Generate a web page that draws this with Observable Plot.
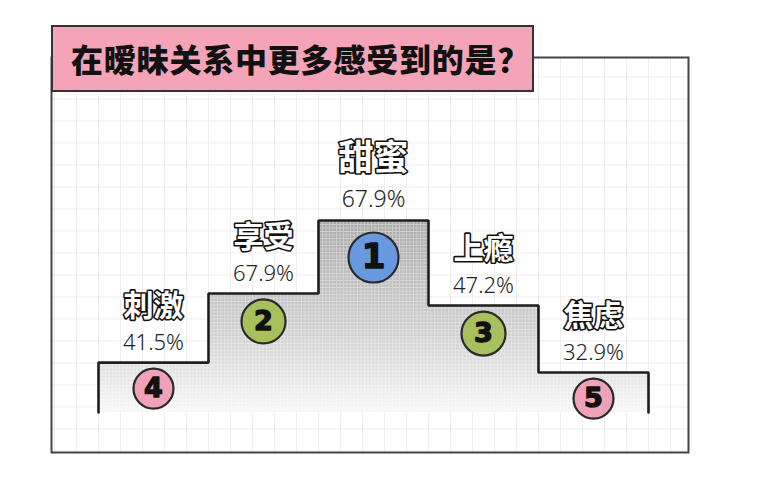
<!DOCTYPE html>
<html>
<head>
<meta charset="utf-8">
<script src="https://cdn.jsdelivr.net/npm/d3@7"></script>
<script src="https://cdn.jsdelivr.net/npm/@observablehq/plot@0.6"></script>
<style>
  html, body { margin: 0; padding: 0; background: #fff; }
  #wrap { position: relative; width: 776px; height: 485px; overflow: hidden; }
  #chart { position: absolute; left: 0; top: 0; }
  #title {
    position: absolute; left: 51px; top: 25px; width: 483px; height: 67px;
    box-sizing: border-box; background: #f5a4b8; border: 2px solid #333;
    padding-left: 18px; line-height: 62px;
    font-family: "Noto Sans CJK SC", sans-serif; font-weight: 900;
    font-size: 32px; letter-spacing: 0.8px; color: #111; white-space: nowrap;
  }
</style>
</head>
<body>
<div id="wrap">
  <div id="chart"></div>
  <div id="title">在暧昧关系中更多感受到的是？</div>
</div>
<script>
// ---- data ----
const categories  = ["刺激", "享受", "甜蜜", "上瘾", "焦虑"];
const percentages = [41.5, 67.9, 67.9, 47.2, 32.9];
const ranks       = [4, 2, 1, 3, 5];
// podium step height, relative to the tallest step (= 100)
const stepHeights = [26, 62, 100, 55.7, 20.8];
const rankColors  = ["#6798e0", "#a8c05c", "#a8c05c", "#f1a2b8", "#f1a2b8"]; // for ranks 1..5

const rows = categories.map((name, i) => ({
  name, pct: percentages[i], rank: ranks[i], h: stepHeights[i], i
}));

const stepPts = rows.flatMap(d => [{x: d.i, y: d.h}, {x: d.i + 1, y: d.h}]);
const outline = [{x: 0, y: 0}, ...stepPts, {x: rows.length, y: 0}];

const PX = 1.92; // pixels per y unit (range 192px / domain 100)
const rad = d => d.rank === 1 ? 25 : d.rank <= 3 ? 22 : 20;
const circleOff = d => d.rank === 1 ? 37 : rad(d) + 6;
const cx = d => d.i + 0.5;
const cy = d => d.h - circleOff(d) / PX;

const gridXs = d3.range(-0.4, 5.35, 0.2);
const gridYs = d3.range(-20, 186, 22 / PX);

const chart = Plot.plot({
  width: 776,
  height: 485,
  marginLeft: 51,
  marginRight: 88,
  marginTop: 57,
  marginBottom: 33,
  x: {domain: [0, 5], range: [98, 648], axis: null},
  y: {domain: [0, 100], range: [412, 220], axis: null},
  r: {type: "identity"},
  color: {type: "ordinal", domain: [1, 2, 3, 4, 5], range: rankColors},
  marks: [
    Plot.gridX(gridXs, {stroke: "#eeeeee", strokeOpacity: 1, strokeWidth: 1}),
    Plot.gridY(gridYs, {stroke: "#eeeeee", strokeOpacity: 1, strokeWidth: 1}),
    Plot.area(stepPts, {x1: "x", y1: () => 0, y2: "y", fill: "url(#podGrad)"}),
    Plot.area(stepPts, {x1: "x", y1: () => 0, y2: "y", fill: "url(#podTex)"}),
    Plot.line(outline, {x: "x", y: "y", stroke: "#1e1e1e", strokeWidth: 2.6, strokeLinejoin: "miter"}),
    Plot.frame({stroke: "#444", strokeWidth: 2}),
    // category names (outlined white text)
    Plot.text(rows, {
      x: cx, y: d => d.h + (d.rank === 1 ? 62 : 56) / PX, text: "name",
      fontSize: d => d.rank === 1 ? 35 : 30,
      fontFamily: "Noto Sans CJK SC", fontWeight: 700,
      fill: "#fff", stroke: "#111", strokeWidth: 3.2, paintOrder: "stroke",
      strokeLinejoin: "round"
    }),
    // percentages
    Plot.text(rows, {
      x: cx, y: d => d.h + (d.rank === 1 ? 21 : 20) / PX,
      text: d => d.pct.toFixed(1) + "%",
      fontSize: d => d.rank === 1 ? 23 : 22,
      fontFamily: "Noto Sans", fontWeight: 300, fill: "#222"
    }),
    // rank badges
    Plot.dot(rows, {x: cx, y: cy, r: rad, fill: "rank", stroke: "#2a2a2a", strokeWidth: 2.2}),
    Plot.text(rows, {
      x: cx, y: cy, text: d => String(d.rank),
      fontSize: d => d.rank === 1 ? 34 : 27,
      fontFamily: "DejaVu Sans", fontWeight: "bold",
      fill: "#111", stroke: "#111", strokeWidth: 1.4
    })
  ]
});

const defs = d3.select(chart).insert("defs", ":first-child");
const grad = defs.append("linearGradient").attr("id", "podGrad")
  .attr("x1", 0).attr("y1", 0).attr("x2", 0).attr("y2", 1);
grad.append("stop").attr("offset", "0%").attr("stop-color", "#a9a9a9");
grad.append("stop").attr("offset", "60%").attr("stop-color", "#d0d0d0");
grad.append("stop").attr("offset", "100%").attr("stop-color", "#f7f7f7");
const pat = defs.append("pattern").attr("id", "podTex")
  .attr("width", 3.5).attr("height", 3.5).attr("patternUnits", "userSpaceOnUse");
pat.append("path").attr("d", "M0 0.5H3.5M0.5 0V3.5")
  .attr("stroke", "#ffffff").attr("stroke-width", 0.9).attr("stroke-opacity", 0.4).attr("fill", "none");

document.getElementById("chart").appendChild(chart);
</script>
</body>
</html>
